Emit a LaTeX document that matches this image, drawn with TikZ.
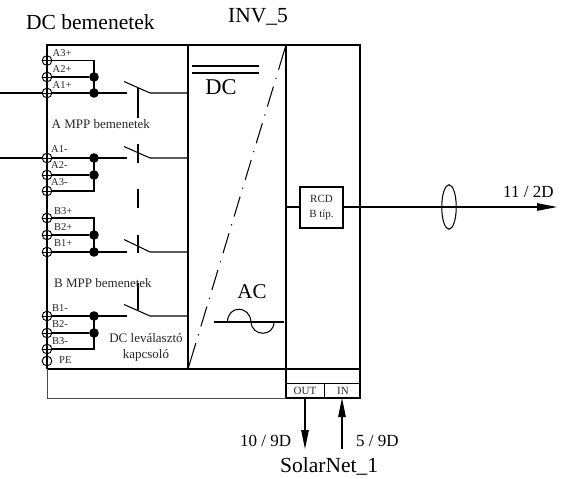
\documentclass[tikz,border=0pt]{standalone}
\usepackage{fontspec}
\setmainfont{Liberation Serif}
\usetikzlibrary{arrows.meta,shapes.geometric,calc}
\tikzset{
  x=1pt,y=-1pt,
  wire/.style={line width=1.05pt,black},
  term/.style={circle,draw,line width=0.95pt,minimum size=9.6pt,inner sep=0pt,fill=none},
  dotj/.style={circle,fill=black,minimum size=9.6pt,inner sep=0pt},
  tiny lab/.style={font=\fontsize{10.5}{11}\selectfont,text=black!85,inner sep=0pt,anchor=west},
  mid lab/.style={font=\fontsize{13}{15}\selectfont,text=black!85,inner sep=0pt},
  big lab/.style={font=\fontsize{21.5}{24}\selectfont,inner sep=0pt},
  flow/.style={wire,-{Triangle[length=19pt,width=7.5pt]}},
  blade/.style={line width=1.05pt}
}
\begin{document}
\begin{tikzpicture}
\useasboundingbox (0,0) rectangle (563,479);
% panels
\coordinate (TL) at (47,45); \coordinate (TM) at (188,45); \coordinate (TR) at (286,45); \coordinate (TE) at (360,45);
\coordinate (BL) at (47,369); \coordinate (BM) at (188,369); \coordinate (BR) at (286,369); \coordinate (BE) at (360,369);
\draw[wire] (BL) -- (TL) -- (TE) -- (BE) -- (BL);
\draw[wire] (TM) -- (BM);
\draw[wire,line width=1.3pt] (TR) -- (BR);
\coordinate (dA) at ($(TR)!26pt!(BM)$);
\coordinate (dB) at ($(BM)!27pt!(TR)$);
\draw[wire] (TR) -- (dA);
\draw[wire] (dB) -- (BM);
\draw[wire,dash pattern=on 0pt off 8.15pt on 1.2pt off 8.15pt on 20.8pt off 0pt] (dA) -- (dB);
% lower box
\coordinate (OL) at (286,383); \coordinate (OR) at (360,383); \coordinate (UL) at (286,398); \coordinate (UR) at (360,398);
\coordinate (OM) at (324,383); \coordinate (UM) at (324,398); \coordinate (LL) at (47,398);
\draw[wire] (BR) -- (UL) -- (UR) -- (BE);
\draw[wire,line width=0.9pt] (OL) -- (OR) (OM) -- (UM);
\draw[line width=0.8pt,black!70] (BL) -- (LL) -- (UL);
\node[font=\fontsize{11}{12}\selectfont,inner sep=0pt,text=black!85] (out) at (305,390.5) {OUT};
\node[font=\fontsize{11}{12}\selectfont,inner sep=0pt,text=black!85] (in) at (343,390.5) {IN};
% terminals
\foreach \n/\y in {Aa/60.5,Ab/77,Ac/93,Ad/158,Ae/175,Af/191,Ba/218,Bb/235,Bc/252,Bd/316,Be/333,Bf/349,PE/361}{
  \node[term] (\n) at (47,\y) {};
}
\foreach \n in {Aa,Ab,Ac,Ad,Ae,Af,Ba,Bb,Bc,Bd,Be,Bf}{
  \draw[wire,line width=0.9pt] (\n.west) -- (\n.east);
}
% junctions
\node[dotj] (JAb) at (94,77) {};
\node[dotj] (JAc) at (94,93) {};
\node[dotj] (JAd) at (94,158) {};
\node[dotj] (JAe) at (94,175) {};
\node[dotj] (JBb) at (94,235) {};
\node[dotj] (JBc) at (94,252) {};
\node[dotj] (JBd) at (94,316) {};
\node[dotj] (JBe) at (94,333) {};
\coordinate (CAa) at (94,60.5); \coordinate (CAf) at (94,191);
\coordinate (CBa) at (94,218); \coordinate (CBf) at (94,349);
\draw[wire] (Aa) -- (CAa) -- (JAc.center);
\draw[wire] (Ab) -- (JAb);
\draw[wire] (Af) -- (CAf) -- (JAd.center);
\draw[wire] (Ae) -- (JAe);
\draw[wire] (Ba) -- (CBa) -- (JBc.center);
\draw[wire] (Bb) -- (JBb);
\draw[wire] (Bf) -- (CBf) -- (JBd.center);
\draw[wire] (Be) -- (JBe);
% inputs and switches
\coordinate (FA1) at (0,93); \coordinate (FA2) at (0,158);
\coordinate (SA1) at (127,93); \coordinate (SA2) at (127,158); \coordinate (SB1) at (127,252); \coordinate (SB2) at (127,316);
\coordinate (PA1) at (150,93); \coordinate (PA2) at (150,158); \coordinate (PB1) at (150,252); \coordinate (PB2) at (150,316);
\coordinate (QA1) at (124,81.5); \coordinate (QA2) at (124,146.5); \coordinate (QB1) at (124,239.5); \coordinate (QB2) at (124,304.5);
\coordinate (EA1) at (188,93); \coordinate (EA2) at (188,158); \coordinate (EB1) at (188,252); \coordinate (EB2) at (188,316);
\draw[wire] (FA1) -- (Ac) (FA2) -- (Ad);
\draw[wire] (Ac) -- (SA1) (Ad) -- (SA2) (Bc) -- (SB1) (Bd) -- (SB2);
\foreach \k in {A1,A2,B1,B2}{
  \draw[blade] (Q\k) -- (P\k) -- (E\k);
}
% mechanical link
\coordinate (m1) at (138,88); \coordinate (m2) at (138,118);
\coordinate (m3) at (138,144); \coordinate (m4) at (138,163);
\coordinate (m5) at (138,189); \coordinate (m6) at (138,208);
\coordinate (m7) at (138,235); \coordinate (m8) at (138,253);
\coordinate (m9) at (138,283); \coordinate (m10) at (138,310);
\draw[blade] (m1) -- (m2) (m3) -- (m4) (m5) -- (m6) (m7) -- (m8) (m9) -- (m10);
% labels
\node[tiny lab] (lA3p) at (52.5,53) {A3+};
\node[tiny lab] (lA2p) at (52.5,69.5) {A2+};
\node[tiny lab] (lA1p) at (52.5,85.5) {A1+};
\node[tiny lab] (lA1m) at (51,149.5) {A1-};
\node[tiny lab] (lA2m) at (51,165.5) {A2-};
\node[tiny lab] (lA3m) at (51,182.5) {A3-};
\node[tiny lab] (lB3p) at (54,211) {B3+};
\node[tiny lab] (lB2p) at (54,227.5) {B2+};
\node[tiny lab] (lB1p) at (54,243.5) {B1+};
\node[tiny lab] (lB1m) at (52,308) {B1-};
\node[tiny lab] (lB2m) at (52,324.5) {B2-};
\node[tiny lab] (lB3m) at (52,341.5) {B3-};
\node[tiny lab] (lPE) at (59,360.5) {PE};
\node[mid lab,anchor=west] (lAm) at (51.5,124) {A MPP bemenetek};
\node[mid lab,anchor=west] (lBm) at (54,283) {B MPP bemenetek};
\node[mid lab,align=center,font=\fontsize{13}{15.5}\selectfont] (lDCk) at (146,347.5) {DC leválasztó\\kapcsoló};
\node[big lab,anchor=base west] (ldcb) at (26,29.5) {DC bemenetek};
\node[big lab,anchor=base west] (linv) at (228,22.5) {INV\_5};
\node[font=\fontsize{22.5}{24}\selectfont,inner sep=0pt] (lDC) at (221,87) {DC};
\node[font=\fontsize{21}{24}\selectfont,inner sep=0pt] (lAC) at (252,292) {AC};
% DC bars
\coordinate (d1) at (192,66); \coordinate (d2) at (259,66); \coordinate (d3) at (192,73); \coordinate (d4) at (259,73);
\draw[wire] (d1) -- (d2);
\draw[line width=1.8pt] (d3) -- (d4);
% AC symbol
\coordinate (a1) at (214,322); \coordinate (a2) at (284,322);
\draw[wire] (a1) -- (a2);
\coordinate (s0) at (227.5,322); \coordinate (s1) at (251,322); \coordinate (s2) at (274,322);
\draw[wire] (s0) .. controls (227.5,305) and (250,305) .. (s1) .. controls (252,337) and (274,337) .. (s2);
% RCD and output
\node[draw,line width=1.05pt,minimum width=43pt,minimum height=41pt,inner sep=0pt,align=center,
      font=\fontsize{11}{14.5}\selectfont,text=black!85] (rcd) at (321.5,207.5) {RCD\\B típ.};
\coordinate (rin) at (286,207);
\coordinate (oend) at (557,207);
\draw[wire] (rin) -- (rin -| rcd.west);
\draw[wire,-{Triangle[length=20pt,width=7.5pt]}] (rcd.east |- oend) -- (oend);
\node[draw,ellipse,line width=1.05pt,minimum width=14.5pt,minimum height=44.5pt,inner sep=0pt] (cable) at (449,207) {};
\node[font=\fontsize{17}{20}\selectfont,inner sep=0pt,anchor=west] (l11) at (503,192) {11 / 2D};
% SolarNet
\coordinate (o1) at (305,398); \coordinate (o2) at (305,449);
\coordinate (i1) at (342,449); \coordinate (i2) at (342,398);
\draw[flow] (o1) -- (o2);
\draw[flow] (i1) -- (i2);
\node[font=\fontsize{17}{19}\selectfont,inner sep=0pt,anchor=west] (l10) at (240,441) {10 / 9D};
\node[font=\fontsize{17}{19}\selectfont,inner sep=0pt,anchor=west] (l5) at (356,441) {5 / 9D};
\node[font=\fontsize{21.5}{24}\selectfont,inner sep=0pt,anchor=west] (lsn) at (280,466) {SolarNet\_1};
\end{tikzpicture}
\end{document}
